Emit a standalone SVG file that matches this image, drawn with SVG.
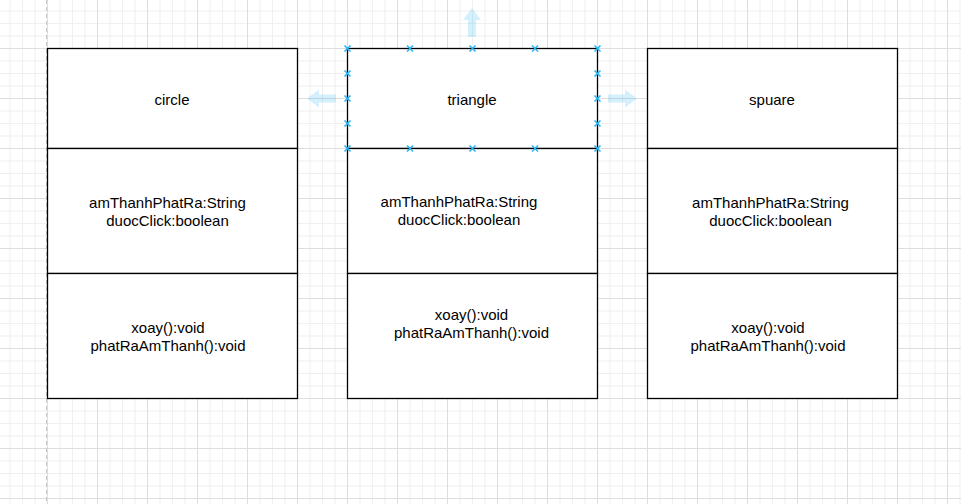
<svg xmlns="http://www.w3.org/2000/svg" width="961" height="504" viewBox="0 0 961 504">
  <defs>
    <pattern id="grid" patternUnits="userSpaceOnUse" x="47" y="48" width="50" height="50">
      <rect width="50" height="50" fill="#ffffff"/>
      <path d="M13 0V50M25.5 0V50M38 0V50M0 13H50M0 25.5H50M0 38H50" stroke="#f0f0f0" stroke-width="1" fill="none"/>
      <path d="M0.5 0V50M0 0.5H50" stroke="#dedede" stroke-width="1" fill="none"/>
    </pattern>
    <path id="hx" d="M-3 -3L3 3M-3 3L3 -3" stroke="#29b6f2" stroke-width="1.6" fill="none"/>
  </defs>
  <style>
    .box { fill: #ffffff; stroke: #000000; stroke-width: 1.3; }
    .lbl { font-family: "Liberation Sans", Arial, sans-serif; font-size: 15px; fill: #000000; text-anchor: middle; }
    .hover { fill: #29b6f2; fill-opacity: 0.2; }
  </style>
  <rect width="961" height="504" fill="url(#grid)"/>
  <line x1="46.5" y1="0" x2="46.5" y2="504" stroke="#c8c8c8" stroke-width="1" stroke-dasharray="4 3"/>

  <g id="circle">
    <rect class="box" x="47.5" y="48.5" width="250" height="100"/>
    <rect class="box" x="47.5" y="148.5" width="250" height="125"/>
    <rect class="box" x="47.5" y="273.5" width="250" height="125"/>
    <text class="lbl" x="172" y="105">circle</text>
    <text class="lbl" x="167.5" y="208">amThanhPhatRa:String</text>
    <text class="lbl" x="167.5" y="226">duocClick:boolean</text>
    <text class="lbl" x="168" y="333">xoay():void</text>
    <text class="lbl" x="168" y="351">phatRaAmThanh():void</text>
  </g>

  <g id="triangle">
    <rect class="box" x="347.5" y="48.5" width="250" height="100"/>
    <rect class="box" x="347.5" y="148.5" width="250" height="125"/>
    <rect class="box" x="347.5" y="273.5" width="250" height="125"/>
    <text class="lbl" x="472" y="105">triangle</text>
    <text class="lbl" x="459" y="207">amThanhPhatRa:String</text>
    <text class="lbl" x="459" y="225">duocClick:boolean</text>
    <text class="lbl" x="471.5" y="320">xoay():void</text>
    <text class="lbl" x="471.5" y="338">phatRaAmThanh():void</text>
  </g>

  <g id="spuare">
    <rect class="box" x="647.5" y="48.5" width="250" height="100"/>
    <rect class="box" x="647.5" y="148.5" width="250" height="125"/>
    <rect class="box" x="647.5" y="273.5" width="250" height="125"/>
    <text class="lbl" x="772" y="105">spuare</text>
    <text class="lbl" x="770.5" y="208">amThanhPhatRa:String</text>
    <text class="lbl" x="770.5" y="226">duocClick:boolean</text>
    <text class="lbl" x="768" y="333">xoay():void</text>
    <text class="lbl" x="768" y="351">phatRaAmThanh():void</text>
  </g>

  <g id="connectors"></g>

  <g id="selection">
    <path class="hover" d="M472 8L481 20H476V37H468V20H463Z"/>
    <path class="hover" d="M307 98.5L319 89.5V94.5H336V102.5H319V107.5Z"/>
    <path class="hover" d="M637 98.5L625 89.5V94.5H608V102.5H625V107.5Z"/>
    <use href="#hx" x="347.5" y="48.5"/>
    <use href="#hx" x="410" y="48.5"/>
    <use href="#hx" x="472.5" y="48.5"/>
    <use href="#hx" x="535" y="48.5"/>
    <use href="#hx" x="597.5" y="48.5"/>
    <use href="#hx" x="347.5" y="148.5"/>
    <use href="#hx" x="410" y="148.5"/>
    <use href="#hx" x="472.5" y="148.5"/>
    <use href="#hx" x="535" y="148.5"/>
    <use href="#hx" x="597.5" y="148.5"/>
    <use href="#hx" x="347.5" y="73.5"/>
    <use href="#hx" x="347.5" y="98.5"/>
    <use href="#hx" x="347.5" y="123.5"/>
    <use href="#hx" x="597.5" y="73.5"/>
    <use href="#hx" x="597.5" y="98.5"/>
    <use href="#hx" x="597.5" y="123.5"/>
  </g>
</svg>
